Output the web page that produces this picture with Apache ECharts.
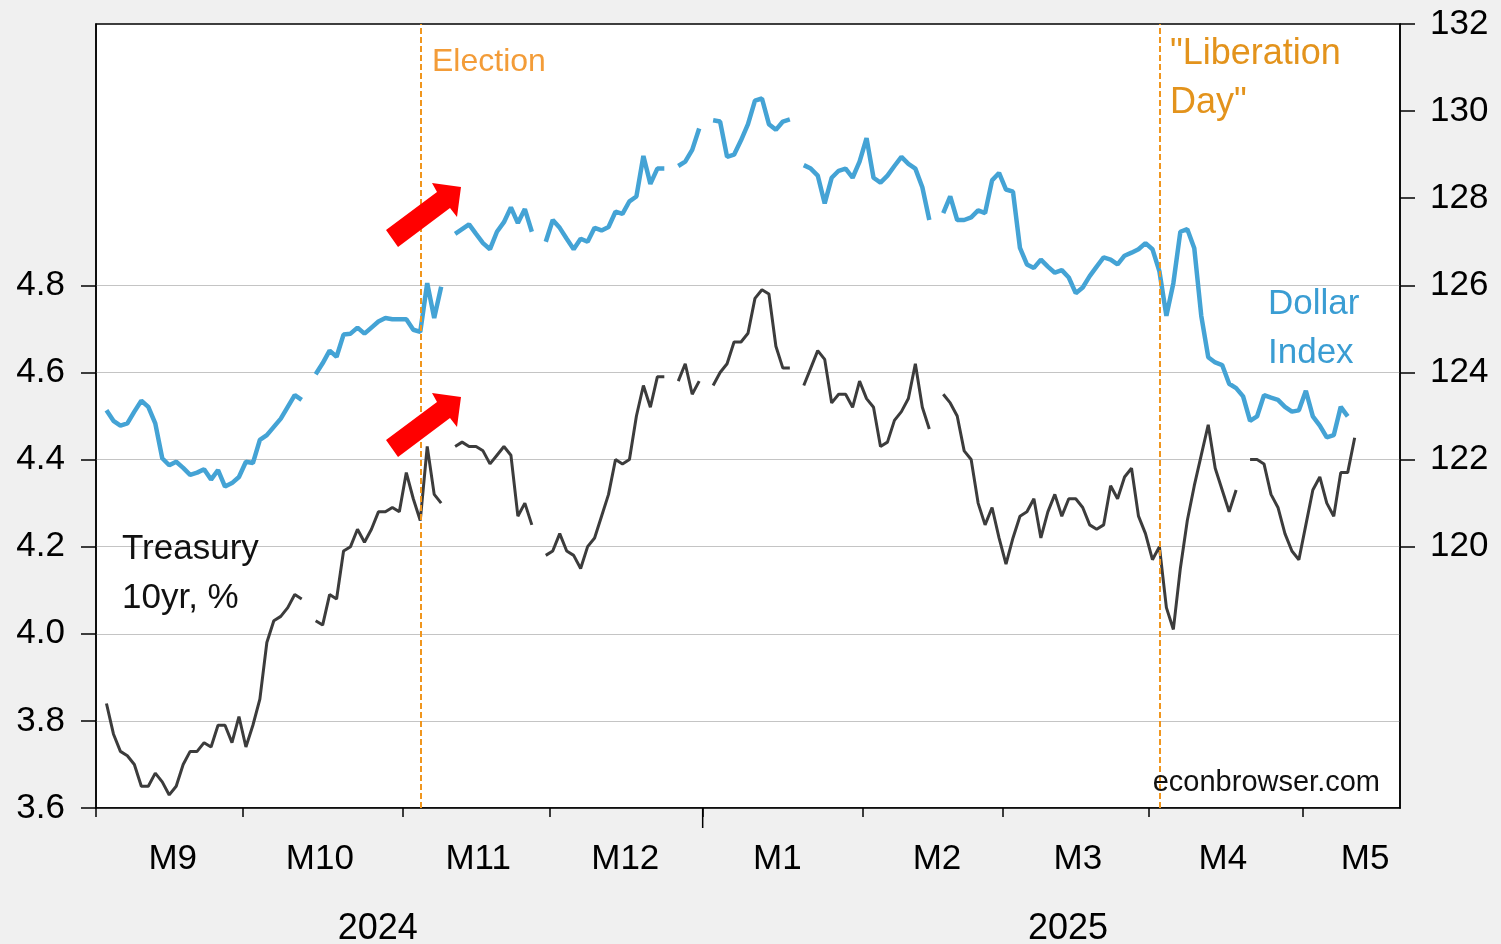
<!DOCTYPE html>
<html>
<head>
<meta charset="utf-8">
<script src="https://cdn.jsdelivr.net/npm/echarts@6/dist/echarts.min.js"></script>
<style>
html,body{margin:0;padding:0;background:#f0f0f0;}
#chart{width:1501px;height:944px;}
</style>
</head>
<body>
<div id="chart"></div>
<script>
// ---------- data ----------
const startDate = '2024-09-02';
const endDate = '2025-05-20';
const electionDate = '2024-11-05';
const liberationDate = '2025-04-02';

// weekday categories (5-day week)
const dates = [];
(function(){
  const d = new Date(startDate + 'T00:00:00Z');
  const e = new Date(endDate + 'T00:00:00Z');
  while (d <= e) {
    const wd = d.getUTCDay();
    if (wd !== 0 && wd !== 6) dates.push(d.toISOString().slice(0,10));
    d.setUTCDate(d.getUTCDate() + 1);
  }
})();

// 10-year Treasury yield, % (one value per weekday, null = no observation)
const treasury10yr = [
null, 3.84, 3.77, 3.73, 3.72, 3.70, 3.65, 3.65, 3.68, 3.66,
3.63, 3.65, 3.70, 3.73, 3.73, 3.75, 3.74, 3.79, 3.79, 3.75,
3.81, 3.74, 3.79, 3.85, 3.98, 4.03, 4.04, 4.06, 4.09, 4.08,
null, 4.03, 4.02, 4.09, 4.08, 4.19, 4.20, 4.24, 4.21, 4.24,
4.28, 4.28, 4.29, 4.28, 4.37, 4.31, 4.26, 4.43, 4.32, 4.30,
null, 4.43, 4.44, 4.43, 4.43, 4.42, 4.39, 4.41, 4.43, 4.41,
4.27, 4.30, 4.25, null, 4.18, 4.19, 4.23, 4.19, 4.18, 4.15,
4.20, 4.22, 4.27, 4.32, 4.40, 4.39, 4.40, 4.50, 4.57, 4.52,
4.59, 4.59, null, 4.58, 4.62, 4.55, 4.58, null, 4.57, 4.60,
4.62, 4.67, 4.67, 4.69, 4.77, 4.79, 4.78, 4.66, 4.61, 4.61,
null, 4.57, 4.61, 4.65, 4.63, 4.53, 4.55, 4.55, 4.52, 4.58,
4.54, 4.52, 4.43, 4.44, 4.49, 4.51, 4.54, 4.62, 4.52, 4.47,
null, 4.55, 4.53, 4.50, 4.42, 4.40, 4.30, 4.25, 4.29, 4.22,
4.16, 4.22, 4.27, 4.28, 4.31, 4.22, 4.28, 4.32, 4.27, 4.31,
4.31, 4.29, 4.25, 4.24, 4.25, 4.34, 4.31, 4.36, 4.38, 4.27,
4.23, 4.17, 4.20, 4.06, 4.01, 4.15, 4.26, 4.34, 4.41, 4.48,
4.38, 4.33, 4.28, 4.33, null, 4.40, 4.40, 4.39, 4.32, 4.29,
4.23, 4.19, 4.17, 4.25, 4.33, 4.36, 4.30, 4.27, 4.37, 4.37,
4.45, null, null, null, null, null, null
];

// Broad dollar index (one value per weekday, null = no observation)
const dollarIndex = [
null, 123.13, 122.89, 122.78, 122.83, 123.10, 123.35, 123.21, 122.83, 122.03,
121.87, 121.95, 121.81, 121.65, 121.70, 121.78, 121.54, 121.76, 121.38, 121.46,
121.60, 121.95, 121.92, 122.45, 122.56, 122.75, 122.94, 123.21, 123.48, 123.37,
null, 123.96, 124.21, 124.50, 124.36, 124.87, 124.89, 125.03, 124.89, 125.03,
125.17, 125.25, 125.22, 125.22, 125.22, 124.98, 124.93, 126.05, 125.25, 125.97,
null, 127.18, 127.29, 127.40, 127.18, 126.97, 126.83, 127.23, 127.45, 127.79,
127.43, 127.75, 127.23, null, 127.00, 127.50, 127.32, 127.07, 126.83, 127.07,
127.00, 127.32, 127.26, 127.34, 127.69, 127.64, 127.93, 128.04, 128.97, 128.33,
128.68, 128.68, null, 128.74, 128.84, 129.11, 129.60, null, 129.79, 129.76,
128.95, 129.00, 129.33, 129.70, 130.24, 130.29, 129.70, 129.57, 129.76, 129.81,
null, 128.76, 128.68, 128.52, 127.88, 128.47, 128.63, 128.68, 128.47, 128.84,
129.38, 128.47, 128.36, 128.52, 128.74, 128.95, 128.79, 128.68, 128.25, 127.50,
null, 127.66, 128.04, 127.50, 127.50, 127.56, 127.72, 127.66, 128.41, 128.58,
128.20, 128.15, 126.86, 126.48, 126.40, 126.59, 126.43, 126.29, 126.35, 126.18,
125.82, 125.95, 126.21, 126.43, 126.64, 126.59, 126.48, 126.68, 126.75, 126.83,
126.97, 126.83, 126.32, 125.30, 126.05, 127.23, 127.29, 126.85, 125.30, 124.35,
124.23, 124.17, 123.74, 123.64, 123.45, 122.89, 122.99, 123.48, 123.42, 123.37,
123.21, 123.10, 123.13, 123.58, 122.99, 122.78, 122.51, 122.56, 123.21, 122.99,
null, null, null, null, null, null, null
];

// tick labels
const monthLabels = ['M9','M10','M11','M12','M1','M2','M3','M4','M5'];
const yearLabels = ['2024','2025'];
const leftTickLabels = [3.6, 3.8, 4.0, 4.2, 4.4, 4.6, 4.8];
const rightTickLabels = [120, 122, 124, 126, 128, 130, 132];

// ---------- derived ----------
const N = dates.length;
const monthStarts = [];
dates.forEach((d, i) => {
  if (i === 0 || d.slice(0,7) !== dates[i-1].slice(0,7)) monthStarts.push(i - 0.5);
});
const yearStart = dates.findIndex(d => d.slice(0,4) === '2025') - 0.5;
const electionIdx = dates.indexOf(electionDate);
const liberationIdx = dates.indexOf(liberationDate);

// label anchor positions on the index axis (style)
const monthLabelPos = [10.5, 31.6, 54.3, 75.4, 97.2, 120.1, 140.3, 161.1, 181.5];
const yearLabelPos = [39.9, 138.9];

const FONT = '"Liberation Sans", Arial, sans-serif';

const chart = echarts.init(document.getElementById('chart'), null, {renderer: 'canvas'});

const gridColors = leftTickLabels.map(() => '#c4c4c4').concat(['rgba(0,0,0,0)','rgba(0,0,0,0)','rgba(0,0,0,0)']);

chart.setOption({
  animation: false,
  backgroundColor: '#f0f0f0',
  grid: {
    left: 96, right: 101, top: 24, bottom: 136,
    show: true, backgroundColor: '#ffffff', borderColor: '#000', borderWidth: 1.5
  },
  xAxis: [{
    type: 'value', min: -0.5, max: N - 0.5,
    axisLine: {show: true, onZero: false, lineStyle: {color: '#000', width: 1.5}},
    axisTick: {show: true, customValues: monthStarts, length: 9, lineStyle: {color: '#000', width: 1.5}},
    axisLabel: {
      customValues: monthLabelPos,
      formatter: v => monthLabels[monthLabelPos.indexOf(v)] || '',
      margin: 34, fontSize: 35, color: '#000', fontFamily: FONT
    },
    splitLine: {show: false}
  }],
  yAxis: [{
    type: 'value', min: 3.6, max: 5.4, interval: 0.2, position: 'left',
    axisLine: {show: true, onZero: false, lineStyle: {color: '#000', width: 1.5}},
    axisTick: {show: true, customValues: leftTickLabels, length: 15, lineStyle: {color: '#000', width: 1.5}},
    axisLabel: {customValues: leftTickLabels, formatter: v => v.toFixed(1), margin: 31, fontSize: 35, color: '#000', fontFamily: FONT},
    splitLine: {show: true, lineStyle: {color: gridColors, width: 1.2}}
  }, {
    type: 'value', min: 114, max: 132, interval: 2, position: 'right',
    axisLine: {show: true, onZero: false, lineStyle: {color: '#000', width: 1.5}},
    axisTick: {show: true, customValues: rightTickLabels, length: 15, lineStyle: {color: '#000', width: 1.5}},
    axisLabel: {customValues: rightTickLabels, formatter: v => String(v), margin: 30, fontSize: 35, color: '#000', fontFamily: FONT, padding: [0, 0, 6, 0]},
    splitLine: {show: false}
  }],
  series: [{
    type: 'line', name: 'Treasury 10yr, %',
    xAxisIndex: 0, yAxisIndex: 0,
    data: treasury10yr.map((v, i) => [i, v]),
    showSymbol: false, connectNulls: false,
    lineStyle: {color: '#3c3c3c', width: 3},
    z: 3,
    markLine: {
      silent: true, symbol: ['none','none'], label: {show: false},
      lineStyle: {color: '#f0961e', type: [6, 3], width: 2},
      data: [{xAxis: electionIdx}, {xAxis: liberationIdx}]
    }
  }, {
    type: 'line', name: 'Dollar Index',
    xAxisIndex: 0, yAxisIndex: 1,
    data: dollarIndex.map((v, i) => [i, v]),
    showSymbol: false, connectNulls: false,
    lineStyle: {color: '#44a3d5', width: 4.5},
    z: 4
  }]
});

// ---------- annotations ----------
function txt(x, y, text, size, color, align) {
  return {
    type: 'text', x: x, y: y, z: 100,
    style: {
      text: text, font: size + 'px ' + FONT, fill: color,
      align: align || 'left', verticalAlign: 'middle',
      textAlign: align || 'left', textVerticalAlign: 'middle'
    }
  };
}
const arrowShape = [[386,230],[437,192],[432,183],[461,187],[457,217],[450,208],[398,247]];
function arrow(dy) {
  return {type: 'polygon', z: 90, shape: {points: arrowShape.map(p => [p[0], p[1] + dy])}, style: {fill: '#ff0000'}};
}

const axisBottom = chart.convertToPixel({yAxisIndex: 0}, 3.6);
const graphics = [
  arrow(0), arrow(210),
  txt(432, 62, 'Election', 32, '#f39c38'),
  txt(1170, 54, '"Liberation', 36, '#e3931c'),
  txt(1170, 103, 'Day"', 36, '#e3931c'),
  txt(122, 549, 'Treasury', 35, '#111'),
  txt(122, 598, '10yr, %', 35, '#111'),
  txt(1268, 304, 'Dollar', 35, '#3a9dd3'),
  txt(1268, 353, 'Index', 35, '#3a9dd3'),
  txt(1380, 783, 'econbrowser.com', 29, '#111', 'right')
];
const yx = chart.convertToPixel({xAxisIndex: 0}, yearStart);
graphics.push({type: 'line', z: 100, shape: {x1: yx, y1: axisBottom, x2: yx, y2: axisBottom + 20}, style: {stroke: '#000', lineWidth: 1.5}});
yearLabels.forEach((t, k) => {
  const px = chart.convertToPixel({xAxisIndex: 0}, yearLabelPos[k]);
  graphics.push(txt(px, 929, t, 36, '#000', 'center'));
});
chart.setOption({graphic: graphics});
</script>
</body>
</html>
